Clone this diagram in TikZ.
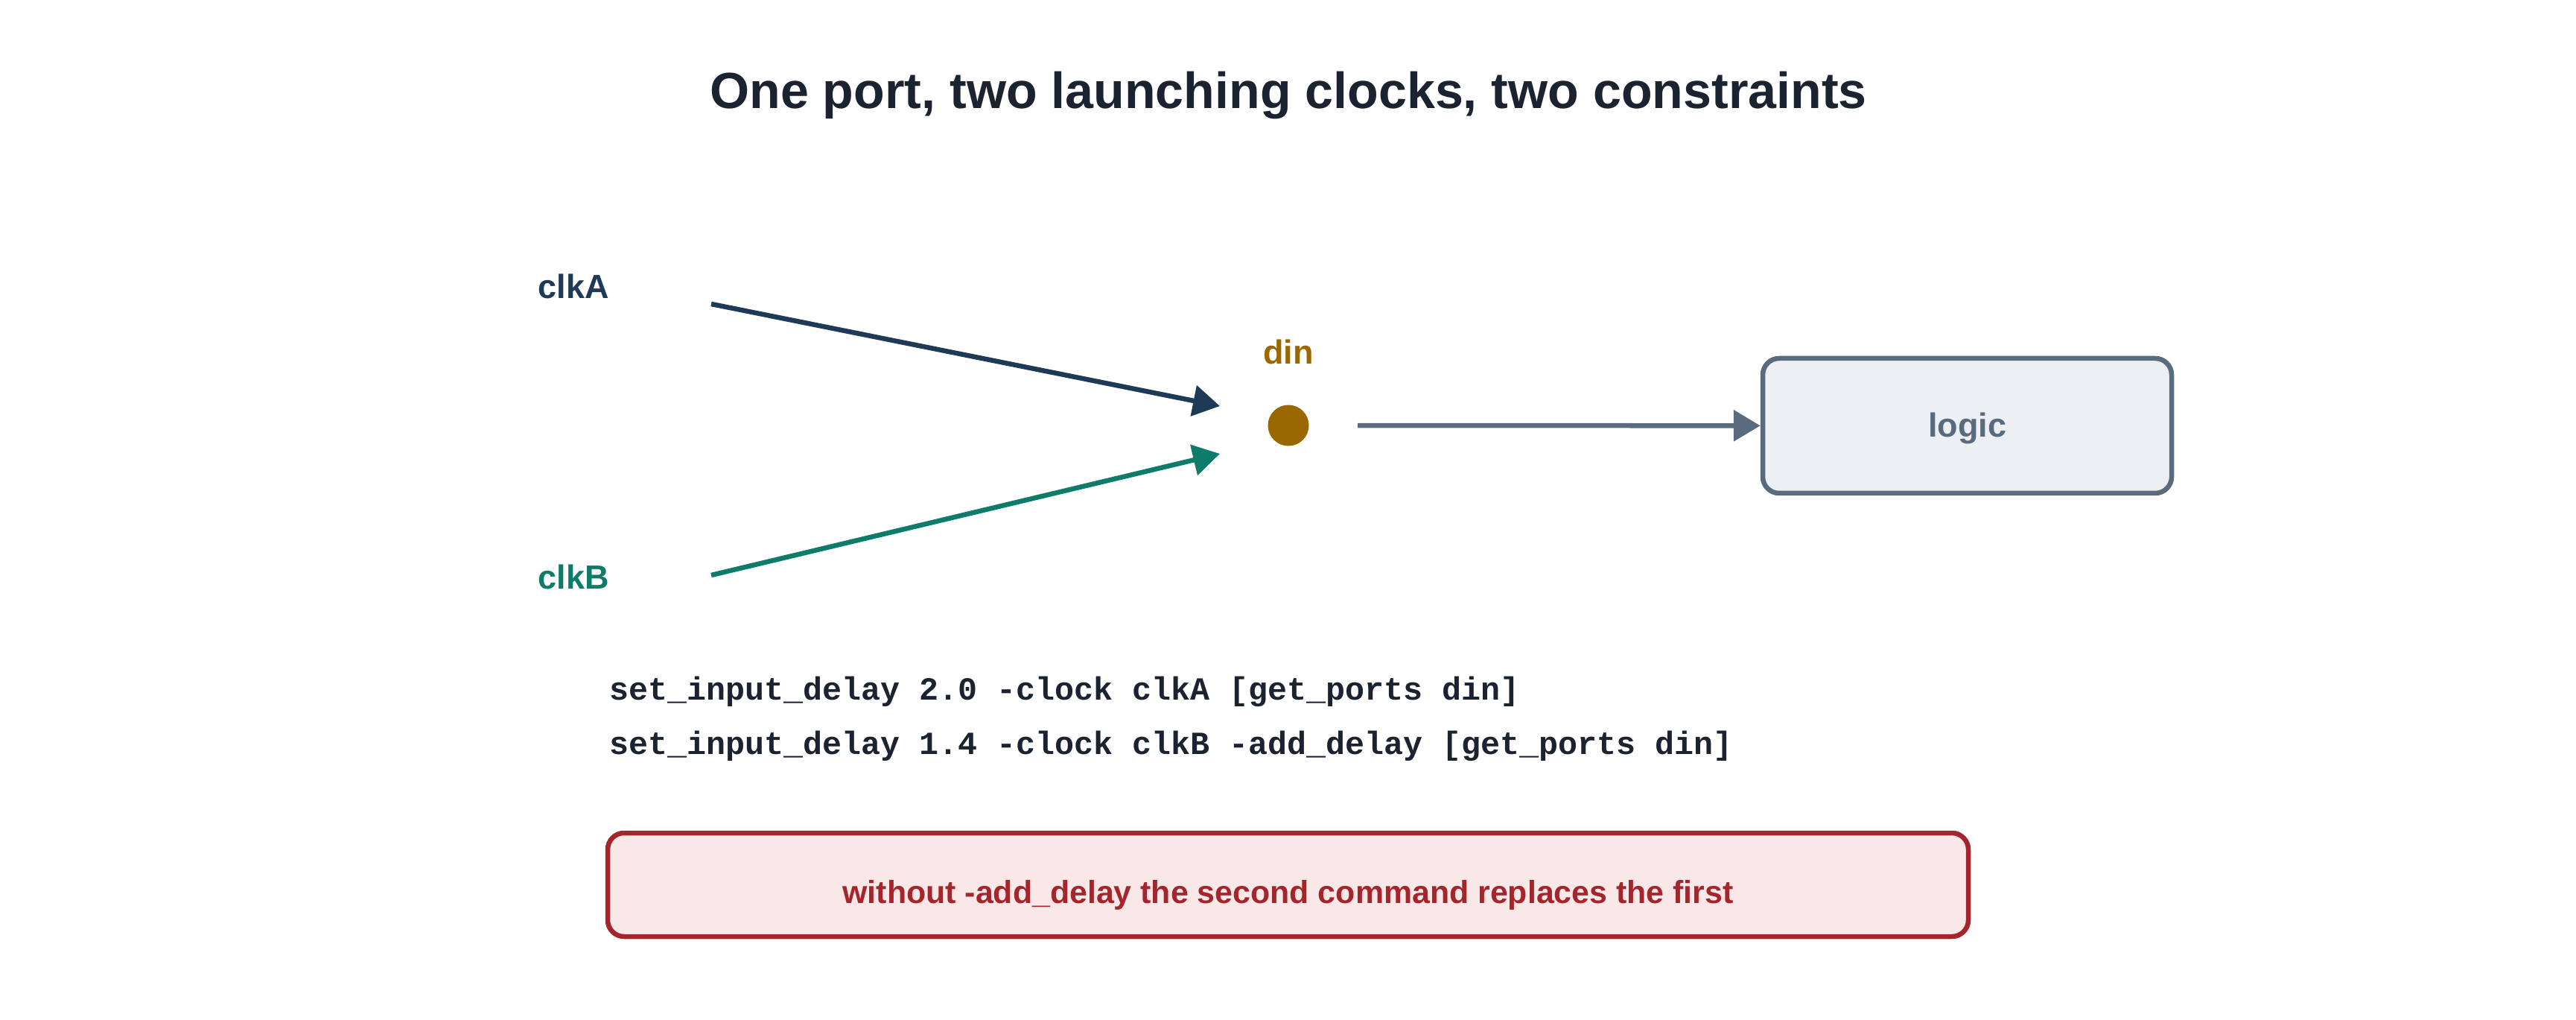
\documentclass[tikz,border=0pt]{standalone}
\usepackage{fontspec}
\setmainfont{Liberation Sans}
\setmonofont{Liberation Mono}
\usetikzlibrary{arrows.meta}

\definecolor{ink}{HTML}{1B2230}
\definecolor{navy}{HTML}{1F3A56}
\definecolor{teal}{HTML}{0E7C6B}
\definecolor{gold}{HTML}{9A6700}
\definecolor{slate}{HTML}{5A6B7D}
\definecolor{slatefill}{HTML}{ECF0F5}
\definecolor{warn}{HTML}{A4262C}
\definecolor{warnfill}{HTML}{FAE8E8}

\tikzset{
  lbl/.style={font=\fontsize{12.8}{15}\selectfont\bfseries},
  wire/.style={line width=1.85pt, -{Triangle[length=0.36cm,width=0.41cm]}},
  code/.style={anchor=west, inner sep=0pt, text=ink, font=\fontsize{12.33}{14}\selectfont\ttfamily\bfseries}
}

\begin{document}
\begin{tikzpicture}
   \useasboundingbox (0,0) rectangle (34.59,13.68);

   \node [text=ink, font=\fontsize{19.4}{23}\selectfont\bfseries]
      (title) at (17.30,12.40) {One port, two launching clocks, two constraints};

   \node [lbl, text=navy] (clkA) at (7.70,9.84) {clkA};
   \node [lbl, text=teal] (clkB) at (7.70,5.94) {clkB};
   \node [circle, fill=gold, minimum size=0.55cm, inner sep=0pt] (din) at (17.30,7.97) {};
   \node [lbl, text=gold] (dinlbl) at (17.30,8.96) {din};
   \node [draw=slate, fill=slatefill, line width=1.85pt, rounded corners=0.22cm,
          minimum width=5.49cm, minimum height=1.81cm] (logic) at (26.415,7.965) {};
   \node [lbl, text=slate] (logictxt) at (26.415,7.93) {logic};

   \coordinate (a0) at (9.55,9.60);
   \coordinate (a1) at (16.38,8.23);
   \coordinate (b0) at (9.55,5.96);
   \coordinate (b1) at (16.38,7.59);

   \draw [wire, navy] (a0) -- (a1);
   \draw [wire, teal] (b0) -- (b1);
   \draw [wire, slate, shorten <=0.65cm] (din) -- (logic);

   \foreach [count=\i] \y/\t in {4.40/{set\_input\_delay 2.0 -clock clkA [get\_ports din]},
                      3.67/{set\_input\_delay 1.4 -clock clkB -add\_delay [get\_ports din]}}
     \node [code] (cmd\i) at (8.18,\y) {\t};

   \node [draw=warn, fill=warnfill, line width=1.85pt, rounded corners=0.22cm,
          minimum width=18.27cm, minimum height=1.39cm] (note) at (17.295,1.805) {};
   \node [text=warn, font=\fontsize{12.2}{14}\selectfont\bfseries]
      (notetxt) at (17.295,1.67) {without -add\_delay the second command replaces the first};
\end{tikzpicture}
\end{document}
